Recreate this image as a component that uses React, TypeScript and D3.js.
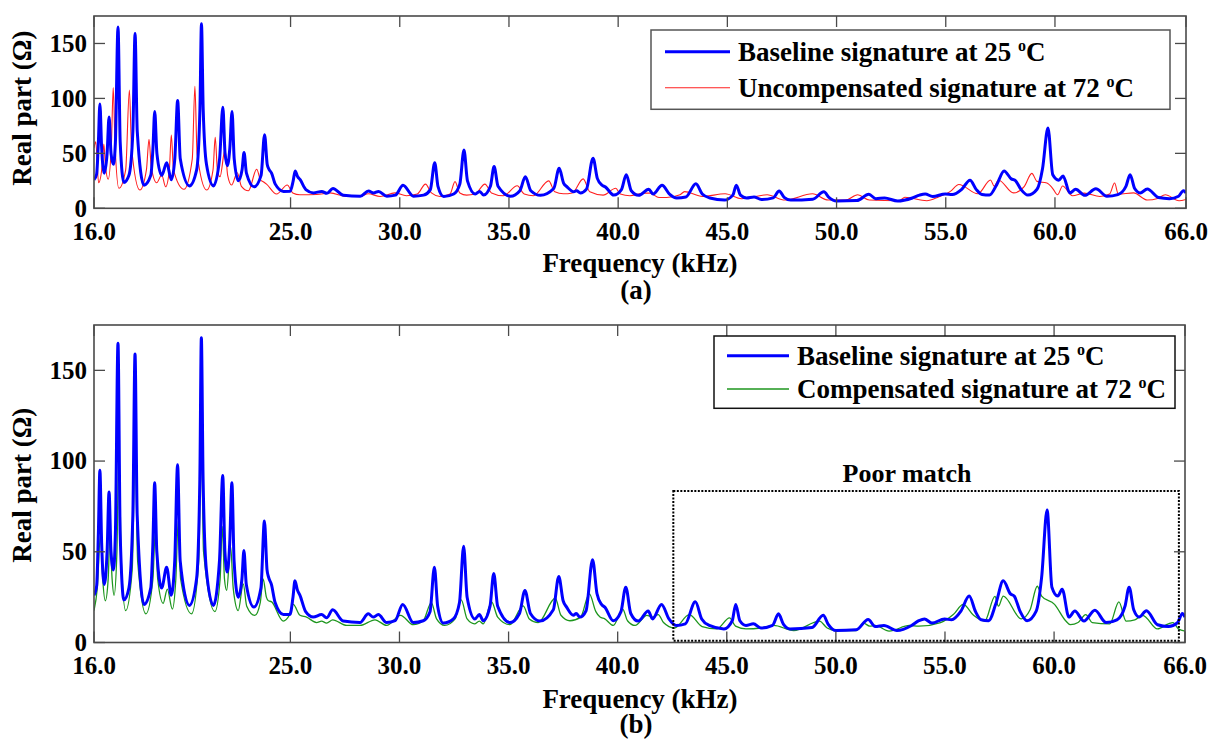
import React from "react";
import * as d3 from "d3";

// ---------- data ----------
type P = [number, number];

const xTicks = [16, 25, 30, 35, 40, 45, 50, 55, 60, 66];
const yTicks = [0, 50, 100, 150];

// Baseline signature at 25 ºC : [frequency kHz, real part Ω]
const baseline: P[] = [
  [16.0, 26], [16.12, 31], [16.2, 60], [16.27, 95], [16.35, 55], [16.47, 32], [16.6, 50], [16.69, 83],
  [16.78, 50], [16.89, 40], [16.98, 60], [17.1, 165], [17.2, 60], [17.37, 23.5], [17.6, 30], [17.78, 70],
  [17.88, 159], [17.98, 70], [18.29, 21], [18.6, 30], [18.7, 55], [18.78, 88], [18.88, 50], [19.1, 30],
  [19.33, 41.5], [19.54, 26], [19.7, 45], [19.83, 98], [19.95, 45], [20.37, 20.4], [20.7, 35], [20.85, 90],
  [20.92, 168], [21.0, 90], [21.15, 40], [21.47, 20.4], [21.75, 45], [21.9, 92], [22.0, 50], [22.11, 38.8],
  [22.22, 55], [22.32, 88], [22.42, 45], [22.61, 25], [22.78, 35], [22.87, 50.7], [22.98, 32], [23.33, 19.5],
  [23.65, 30], [23.81, 67], [23.93, 40], [24.0, 36], [24.13, 32], [24.3, 22], [24.68, 15.4], [24.98, 15.5],
  [25.12, 25], [25.21, 34], [25.32, 29], [25.44, 26], [25.7, 17], [26.05, 14], [26.43, 15.4], [26.66, 13.6],
  [26.94, 18], [27.42, 11.8], [28.19, 11], [28.57, 15.8], [28.8, 14], [29.03, 15.4], [29.41, 11], [29.8, 12],
  [30.15, 21], [30.63, 11], [31.09, 12], [31.4, 17], [31.6, 41.5], [31.75, 20], [32.01, 10.7], [32.47, 13],
  [32.75, 22], [32.94, 53], [33.1, 25], [33.46, 13], [33.66, 15.4], [33.84, 12], [34.15, 20], [34.32, 38],
  [34.5, 20], [35.07, 11], [35.5, 16], [35.75, 28.7], [36.0, 16], [36.44, 11.8], [37.05, 18], [37.3, 36.4],
  [37.5, 23], [37.66, 19.5], [37.97, 15], [38.1, 16], [38.27, 14], [38.55, 17.5], [38.85, 45.6], [39.05, 27],
  [39.26, 21], [39.41, 19.5], [39.8, 12], [40.15, 17], [40.37, 30.5], [40.6, 16], [40.94, 11.8], [41.4, 17.3],
  [41.6, 13], [42.01, 21], [42.35, 13], [42.68, 9.4], [43.1, 10.3], [43.56, 22.4], [43.85, 13], [44.2, 9.4],
  [44.87, 7.5], [45.25, 12], [45.41, 21], [45.6, 12], [45.88, 9.4], [46.22, 10.3], [46.56, 8], [47.1, 9.5],
  [47.37, 15.8], [47.6, 10], [47.9, 7.5], [48.91, 8.3], [49.42, 15], [49.65, 10], [50.0, 6.6], [50.93, 7],
  [51.48, 12.7], [51.8, 8.8], [52.2, 9.4], [52.8, 6.6], [53.47, 9.4], [53.8, 12], [54.06, 13], [54.4, 10.7],
  [54.98, 13], [55.3, 12.5], [55.73, 17.3], [56.11, 25.6], [56.4, 17], [56.66, 12.5], [57.0, 12], [57.33, 21.3],
  [57.67, 34], [58.0, 26.8], [58.17, 25.6], [58.45, 17], [58.76, 12], [59.18, 17.3], [59.43, 36], [59.68, 73],
  [59.9, 30.5], [60.17, 25.6], [60.37, 29.4], [60.68, 14], [60.95, 17.3], [61.37, 11.8], [61.87, 17.8], [62.38, 11],
  [62.88, 12.5], [63.25, 20], [63.44, 30.5], [63.65, 18], [63.9, 14], [64.23, 17.5], [64.74, 9.8], [65.24, 8.8],
  [65.66, 11], [65.88, 16], [66.0, 14],
];

// Uncompensated signature at 72 ºC
const uncompensated: P[] = [
  [16.0, 55], [16.08, 60.5], [16.21, 23.3], [16.38, 40], [16.45, 58.5], [16.52, 40], [16.65, 26.4], [16.8, 60],
  [16.88, 110], [16.96, 60], [17.14, 18.2], [17.45, 35], [17.62, 107.5], [17.72, 55], [18.1, 16.6], [18.4, 35],
  [18.52, 62.7], [18.62, 38], [18.87, 23.3], [19.1, 30.3], [19.28, 19.6], [19.45, 35], [19.54, 66.6], [19.64, 35],
  [20.12, 17.3], [20.5, 45], [20.62, 111], [20.72, 50], [21.16, 16.6], [21.45, 35], [21.55, 64.5], [21.65, 35],
  [21.77, 28.7], [22.0, 53.6], [22.12, 30], [22.3, 21.2], [22.56, 32.4], [22.75, 20], [23.07, 16], [23.45, 35.5],
  [23.62, 26], [23.75, 24.2], [23.9, 22], [24.36, 13], [24.85, 21.2], [25.1, 14], [25.43, 12.3], [26.2, 12.5],
  [26.8, 14], [27.57, 10.8], [28.2, 11], [28.56, 13.2], [29.1, 10.8], [29.78, 14], [30.3, 11.4], [30.8, 13],
  [31.18, 22], [31.45, 14], [31.84, 10.8], [32.3, 13], [32.53, 24.3], [32.75, 14], [33.06, 12], [33.45, 13],
  [33.9, 22], [34.2, 14], [34.74, 11.4], [35.38, 20.5], [35.7, 13], [36.12, 11.4], [36.82, 25], [37.1, 15],
  [37.49, 13.2], [37.9, 14], [38.4, 26.8], [38.7, 15], [39.31, 12], [39.89, 18.2], [40.1, 13], [40.54, 11.4],
  [41.0, 13.2], [41.15, 13.8], [41.46, 13.8], [41.87, 9.8], [42.22, 9.8], [42.83, 12.3], [43.04, 15.2], [43.86, 10.8],
  [44.9, 13.2], [45.65, 8.7], [46.82, 12.3], [47.64, 7.5], [48.9, 13.2], [49.62, 7.5], [50.4, 7.5], [50.97, 12.3],
  [51.5, 7.5], [52.87, 6.9], [53.13, 10], [54.13, 6.9], [54.67, 10.3], [55.21, 15.4], [55.6, 21.6], [56.47, 13.2],
  [57.05, 25.8], [57.22, 20], [57.41, 25.8], [58.1, 14], [58.6, 20], [58.94, 31.8], [59.18, 24.5], [59.63, 23],
  [59.9, 18], [60.12, 12.3], [60.35, 20.3], [60.8, 11.4], [61.34, 13.8], [62.06, 10.8], [62.5, 13], [62.73, 23],
  [62.9, 13], [63.6, 14], [64.23, 7.5], [64.7, 9], [65.05, 12.3], [65.68, 6.9], [66.0, 8],
];

// Compensated signature at 72 ºC
const compensated: P[] = [
  [16.0, 17.6], [16.15, 30], [16.3, 60], [16.4, 35], [16.52, 23], [16.65, 35], [16.73, 59], [16.83, 35],
  [16.92, 26], [17.05, 50], [17.14, 109.5], [17.25, 45], [17.45, 17.6], [17.75, 40], [17.89, 107], [18.0, 45],
  [18.38, 15.8], [18.7, 35], [18.81, 62], [18.92, 35], [19.17, 21.6], [19.36, 29.4], [19.59, 18.4], [19.75, 35],
  [19.86, 67], [19.97, 35], [20.47, 15.8], [20.8, 45], [20.92, 111], [21.02, 50], [21.54, 17], [21.78, 35],
  [21.88, 64], [21.98, 35], [22.08, 28.7], [22.26, 53], [22.38, 30], [22.61, 17.6], [22.84, 32.3], [23.0, 20],
  [23.37, 14.9], [23.62, 22], [23.75, 35], [23.9, 25], [23.99, 23], [24.13, 22.5], [24.67, 11.8], [24.95, 15],
  [25.13, 21], [25.44, 15], [25.74, 14], [26.2, 11], [26.43, 11.8], [26.66, 10.7], [26.94, 12.5], [27.58, 9.4],
  [28.19, 9.4], [28.88, 12.5], [29.41, 9.4], [30.05, 15], [30.63, 9.8], [31.09, 12], [31.46, 22], [31.7, 13],
  [32.07, 9.4], [32.55, 13], [32.83, 23.5], [33.1, 13], [33.44, 10.3], [33.66, 11.8], [33.84, 10.3], [34.22, 22.4],
  [34.5, 14], [35.06, 9.8], [35.67, 20.2], [35.95, 13], [36.36, 11], [37.14, 24.4], [37.4, 15], [37.81, 12],
  [38.3, 14], [38.7, 26.8], [39.0, 17], [39.19, 14], [39.41, 13], [39.8, 9.4], [40.23, 18.4], [40.45, 12],
  [40.8, 9.4], [41.34, 15], [41.6, 14], [41.86, 15.4], [42.1, 11], [42.6, 8], [43.28, 15.4], [43.87, 8.8],
  [44.54, 7.5], [45.13, 13.6], [45.4, 9], [45.88, 7.5], [46.56, 8], [47.15, 9.4], [48.07, 6.6], [49.25, 11.8],
  [49.6, 8], [50.0, 6.6], [50.93, 6.6], [51.27, 10.7], [51.55, 9], [51.8, 9.4], [52.44, 6.3], [53.37, 9.4],
  [53.8, 9], [54.8, 11], [55.38, 15.4], [55.84, 21], [56.31, 15], [56.82, 11.8], [57.29, 25.4], [57.45, 20],
  [57.67, 25.6], [58.5, 13], [58.9, 18], [59.23, 31], [59.43, 25.6], [60.02, 21], [60.53, 12], [60.75, 9.8],
  [61.1, 11], [61.45, 15.4], [61.75, 11], [62.55, 10.3], [62.97, 22.4], [63.3, 11.8], [63.7, 12.5], [64.06, 15],
  [64.74, 7.5], [65.24, 10.3], [65.45, 11], [65.7, 7.5], [66.0, 6.3],
];

// "Poor match" region, in data units: [f0, f1], [v0, v1]
const poorMatchF = [42.55, 65.72];
const poorMatchV = [1, 83.5];

// ---------- drawing ----------
const FONT = "'Liberation Serif', 'Times New Roman', serif";
const X_DOMAIN: [number, number] = [16, 66];
const Y_DOMAIN: [number, number] = [0, 175];
const AXIS = "#4a4a4a";

type Series = { data: P[]; color: string; width: number; label: string };

function Deg({ pre }: { pre: string }) {
  return (
    <>
      {pre}
      <tspan dy={-10} fontSize={16}>o</tspan>
      <tspan dy={10}>C</tspan>
    </>
  );
}

function Panel(props: {
  left: number; top: number; right: number; bottom: number;
  series: Series[]; id: string; tag: string; yLabelShift: number;
  legend: { x0: number; y0: number; x1: number; y1: number; lx0: number; lx1: number; tx: number; rows: { ly: number; ty: number }[]; stroke: string };
  children?: React.ReactNode;
  xLabelY: number; tagY: number;
}) {
  const { left, top, right, bottom, series, id, legend } = props;
  const x = d3.scaleLinear().domain(X_DOMAIN).range([left, right]);
  const y = d3.scaleLinear().domain(Y_DOMAIN).range([bottom, top]);
  const line = d3.line<P>().x((d) => x(d[0])).y((d) => y(d[1])).curve(d3.curveMonotoneX);
  const tickLen = 11;
  return (
    <g>
      <defs>
        <clipPath id={id}>
          <rect x={left} y={top} width={right - left} height={bottom - top} />
        </clipPath>
      </defs>
      <g clipPath={`url(#${id})`}>
        {[...series].reverse().map((s) => (
          <path key={s.label} d={line(s.data) || ""} fill="none" stroke={s.color} strokeWidth={s.width} strokeLinejoin="round" />
        ))}
      </g>
      {/* ticks */}
      {xTicks.map((t) => (
        <g key={"x" + t}>
          <line x1={x(t)} x2={x(t)} y1={bottom} y2={bottom - tickLen} stroke={AXIS} strokeWidth={1.3} />
          <line x1={x(t)} x2={x(t)} y1={top} y2={top + tickLen} stroke={AXIS} strokeWidth={1.3} />
          <text x={x(t)} y={bottom + 31.5} textAnchor="middle" fontFamily={FONT} fontWeight="bold" fontSize={25}>
            {d3.format(".1f")(t)}
          </text>
        </g>
      ))}
      {yTicks.map((t) => (
        <g key={"y" + t}>
          <line x1={left} x2={left + tickLen} y1={y(t)} y2={y(t)} stroke={AXIS} strokeWidth={1.3} />
          <line x1={right} x2={right - tickLen} y1={y(t)} y2={y(t)} stroke={AXIS} strokeWidth={1.3} />
          <text x={left - 7} y={y(t)} dy="0.33em" textAnchor="end" fontFamily={FONT} fontWeight="bold" fontSize={25}>
            {t}
          </text>
        </g>
      ))}
      <rect x={left} y={top} width={right - left} height={bottom - top} fill="none" stroke={AXIS} strokeWidth={1.6} />
      {/* axis titles */}
      <text x={640} y={props.xLabelY} textAnchor="middle" fontFamily={FONT} fontWeight="bold" fontSize={27}>
        Frequency (kHz)
      </text>
      <text x={636} y={props.tagY} textAnchor="middle" fontFamily={FONT} fontWeight="bold" fontSize={27}>
        {props.tag}
      </text>
      <text
        transform={`translate(31,${(top + bottom) / 2 + props.yLabelShift}) rotate(-90)`}
        textAnchor="middle" fontFamily={FONT} fontWeight="bold" fontSize={27}
      >
        Real part (Ω)
      </text>
      {/* legend */}
      <rect x={legend.x0} y={legend.y0} width={legend.x1 - legend.x0} height={legend.y1 - legend.y0} fill="#fff" stroke={legend.stroke} strokeWidth={1.5} />
      {series.map((s, i) => (
        <g key={"lg" + i}>
          <line x1={legend.lx0} x2={legend.lx1} y1={legend.rows[i].ly} y2={legend.rows[i].ly} stroke={s.color} strokeWidth={s.width} />
          <text x={legend.tx} y={legend.rows[i].ty} fontFamily={FONT} fontWeight="bold" fontSize={27}>
            <Deg pre={s.label} />
          </text>
        </g>
      ))}
      {props.children}
    </g>
  );
}

export default function App() {
  const bL = 94, bT = 325, bR = 1185, bB = 642.5;
  const xb = d3.scaleLinear().domain(X_DOMAIN).range([bL, bR]);
  const yb = d3.scaleLinear().domain(Y_DOMAIN).range([bB, bT]);
  return (
    <svg width={1216} height={739} style={{ position: "absolute", left: 0, top: 0, background: "#fff" }}>
      <rect width={1216} height={739} fill="#fff" />
      <Panel
        id="clipA" left={94} top={16} right={1186} bottom={208.3} tag="(a)" xLabelY={272} tagY={299} yLabelShift={-4}
        series={[
          { data: baseline, color: "#0000ff", width: 3, label: "Baseline signature at 25 " },
          { data: uncompensated, color: "#ff2020", width: 1.1, label: "Uncompensated signature at 72 " },
        ]}
        legend={{ x0: 651, y0: 30, x1: 1170, y1: 109.3, lx0: 665, lx1: 730, tx: 738, rows: [{ ly: 51.7, ty: 60.7 }, { ly: 87.7, ty: 97.3 }], stroke: "#555" }}
      />
      <Panel
        id="clipB" left={bL} top={bT} right={bR} bottom={bB} tag="(b)" xLabelY={708} tagY={733} yLabelShift={1.5}
        series={[
          { data: baseline, color: "#0000ff", width: 3, label: "Baseline signature at 25 " },
          { data: compensated, color: "#1e961e", width: 1.3, label: "Compensated signature at 72 " },
        ]}
        legend={{ x0: 714, y0: 336, x1: 1175, y1: 408.3, lx0: 727, lx1: 789, tx: 797, rows: [{ ly: 355.7, ty: 365 }, { ly: 389, ty: 398 }], stroke: "#111" }}
      >
        <rect
          x={xb(poorMatchF[0])} y={yb(poorMatchV[1])}
          width={xb(poorMatchF[1]) - xb(poorMatchF[0])} height={yb(poorMatchV[0]) - yb(poorMatchV[1])}
          fill="none" stroke="#000" strokeWidth={2} strokeDasharray="2,1.5"
        />
        <text x={907} y={481.7} textAnchor="middle" fontFamily={FONT} fontWeight="bold" fontSize={26}>
          Poor match
        </text>
      </Panel>
    </svg>
  );
}
